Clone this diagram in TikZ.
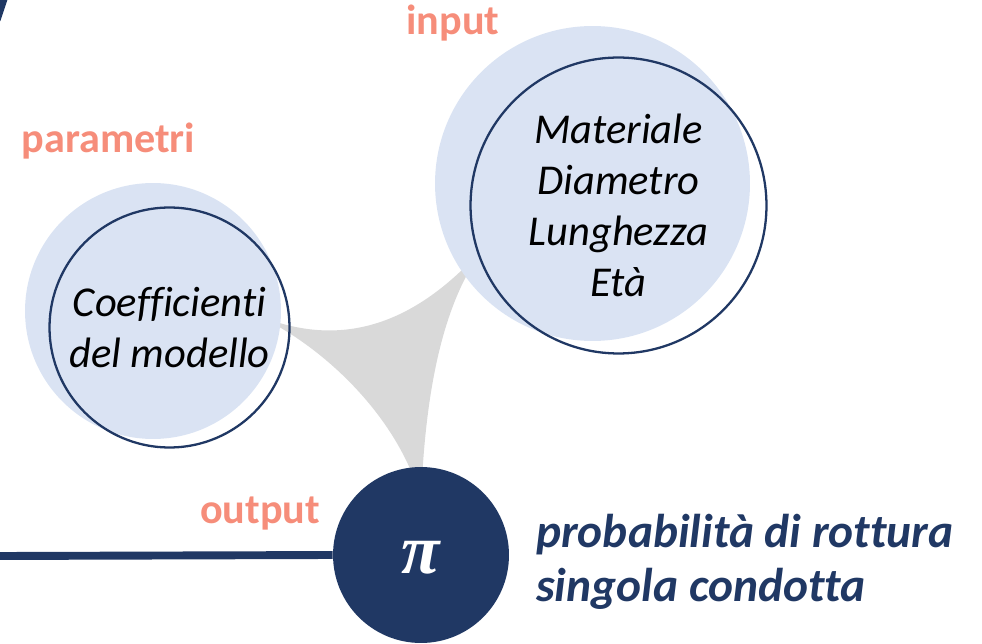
\documentclass[tikz,border=0pt]{standalone}
\usepackage{fontspec}
\setmainfont{Carlito}[Ligatures=NoCommon]
\newfontfamily\serifgr{Liberation Serif}
\definecolor{navy}{HTML}{203864}
\definecolor{paleblue}{HTML}{DAE3F3}
\definecolor{salmon}{HTML}{F68D7A}
\definecolor{linkgray}{HTML}{D9D9D9}
\begin{document}
\begin{tikzpicture}[x=0.02cm,y=-0.02cm,
  fillc/.style={circle,fill=paleblue,inner sep=0pt},
  ringc/.style={circle,draw=navy,line width=1.3pt,inner sep=0pt,align=center,font=\fontsize{24.2}{29}\selectfont\itshape},
  lbl/.style={text=salmon,font=\fontsize{24}{28}\selectfont\bfseries,anchor=base}]
  \useasboundingbox (0,0) rectangle (982,644);
  % grey link between the three circles
  \fill[linkgray] (250,312) .. controls (330,348) and (410,335) .. (490,240)
    .. controls (440,300) and (425,400) .. (421,500)
    .. controls (400,420) and (325,345) .. (250,312) -- cycle;
  \node[fillc,minimum size=5.12cm] (parB) at (153,311){};
  \node[fillc,minimum size=6.3cm] (inB) at (592.5,183.5){};
  \node[ringc,minimum size=4.8cm] (par) at (169.5,327.5){Coefficienti\\del modello};
  \node[ringc,minimum size=5.92cm] (in) at (618.5,205.5){Materiale\\Diametro\\Lunghezza\\Età};
  \node[circle,fill=navy,inner sep=0pt,minimum size=3.52cm] (out) at (421,555){};
  \coordinate (lineW) at (0,556);
  \draw[navy,line width=4.5pt] (lineW) -- (out.west);
  \coordinate (arcA) at (5,-4);
  \coordinate (arcB) at (-3,20);
  \draw[navy,line width=4pt] (arcA) -- (arcB);
  \node[text=white,font=\fontsize{40}{40}\selectfont\serifgr\bfseries\itshape] (piglyph) at (421,558){π};
  % labels
  \node[lbl] (lin) at (453,35){input};
  \node[lbl] (lpar) at (108.5,153){parametri};
  \node[lbl] (lout) at (260,523){output};
  \node[anchor=west,align=left,text=navy,font=\fontsize{27}{31}\selectfont\bfseries\itshape] (desc) at (530,562){probabilità di rottura\\singola condotta};
\end{tikzpicture}
\end{document}
